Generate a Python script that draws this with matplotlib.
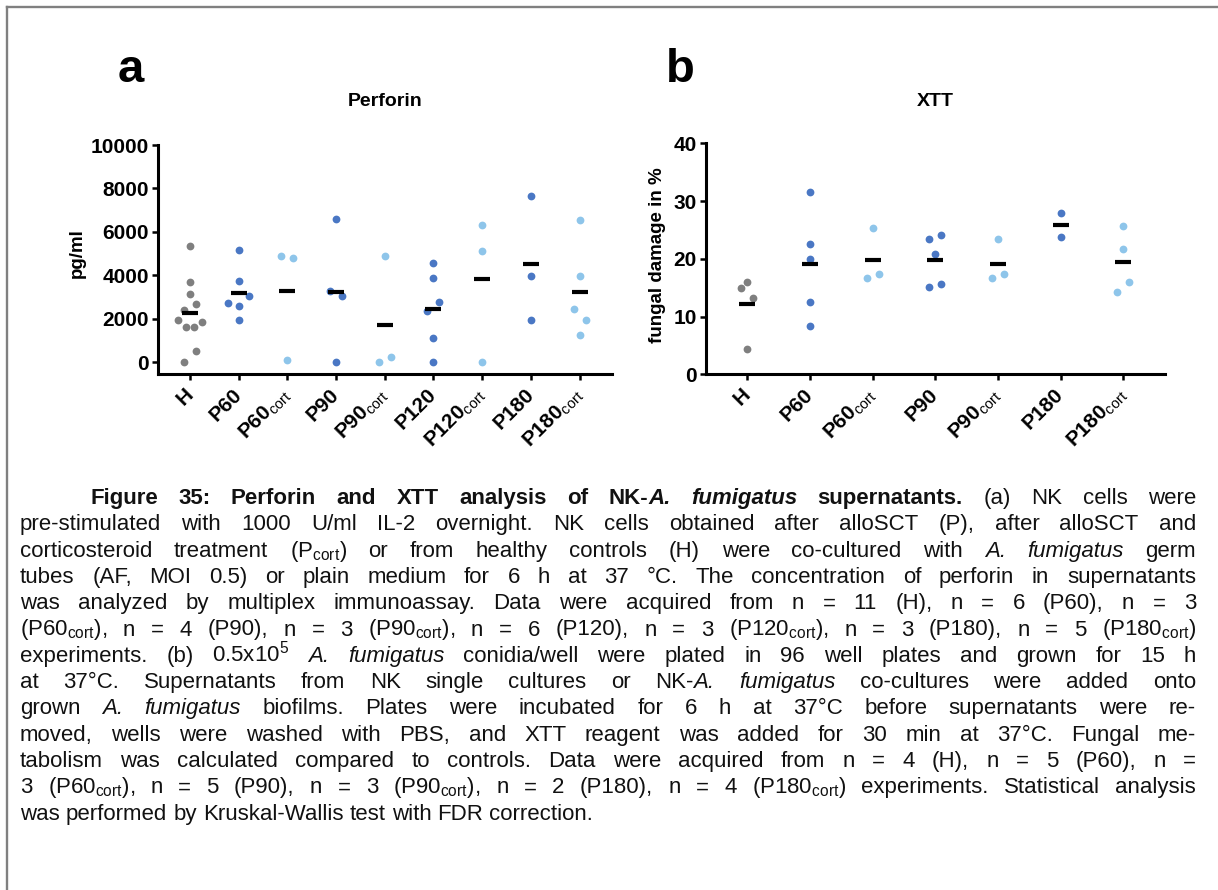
import re
import numpy as np
import matplotlib
matplotlib.use("Agg")
import matplotlib.pyplot as plt
from matplotlib.lines import Line2D

plt.rcParams.update({
    "font.family": "Liberation Sans",
    "mathtext.fontset": "custom",
    "mathtext.rm": "Liberation Sans",
    "mathtext.bf": "Liberation Sans:bold",
    "mathtext.it": "Liberation Sans:italic",
})

W, H, DPI = 1218, 890, 100

# ---------------- data ----------------
perforin_groups = ["H", "P60", "P60cort", "P90", "P90cort",
                   "P120", "P120cort", "P180", "P180cort"]
perf_H = [5350, 3710, 3140, 2390, 2680, 1640, 1610, 1960, 1870, 0, 520]
perf_P60 = [5150, 3740, 2590, 2710, 3050, 1960]
perf_P60cort = [4880, 4800, 110]
perf_P90 = [6610, 3280, 3070, 0]
perf_P90cort = [4880, 0, 250]
perf_P120 = [4570, 3900, 2350, 2780, 1140, 0]
perf_P120cort = [6330, 5120, 0]
perf_P180 = [7650, 3960, 1960]
perf_P180cort = [6560, 3970, 2450, 1930, 1260]
perforin_values = [perf_H, perf_P60, perf_P60cort, perf_P90, perf_P90cort,
                   perf_P120, perf_P120cort, perf_P180, perf_P180cort]
perforin_ticks = [0, 2000, 4000, 6000, 8000, 10000]

xtt_groups = ["H", "P60", "P60cort", "P90", "P90cort", "P180", "P180cort"]
xtt_H = [15.9, 15.0, 13.2, 4.4]
xtt_P60 = [31.6, 22.6, 20.0, 12.6, 8.3]
xtt_P60cort = [25.4, 16.6, 17.4]
xtt_P90 = [23.4, 24.2, 20.8, 15.2, 15.7]
xtt_P90cort = [23.5, 16.7, 17.3]
xtt_P180 = [28.0, 23.8]
xtt_P180cort = [25.7, 21.7, 14.3, 16.0]
xtt_values = [xtt_H, xtt_P60, xtt_P60cort, xtt_P90, xtt_P90cort,
              xtt_P180, xtt_P180cort]
xtt_ticks = [0, 10, 20, 30, 40]

COL_H = "#7f7f7f"
COL_P = "#4a77c4"
COL_CORT = "#8ec5ea"


def group_color(name):
    if name == "H":
        return COL_H
    return COL_CORT if name.endswith("cort") else COL_P


def tick_label(name):
    if name.endswith("cort"):
        return r"$\mathbf{%s}_{\mathrm{cort}}$" % name[:-4]
    return name


def spread_offsets(values, px_per_unit, px_per_cat, thresh=12.0):
    """Horizontal offsets (in category units) for points that sit close in y."""
    vals = np.asarray(values, float)
    order = np.argsort(vals, kind="stable")
    groups = []
    for idx in order:
        if groups and (vals[idx] - vals[groups[-1][0]]) * px_per_unit < thresh:
            groups[-1].append(idx)
        else:
            groups.append([idx])
    offs = np.zeros(len(vals))
    for g in groups:
        n = len(g)
        if n == 1:
            continue
        step = min(12.0, 32.0 / n)
        if n % 2:
            slots = [0.0] + [s * k for k in range(1, n // 2 + 1) for s in (-1, 1)]
        else:
            slots = [s * (k - 0.5) for k in range(1, n // 2 + 1) for s in (-1, 1)]
        for idx, sl in zip(sorted(g), slots):
            offs[idx] = sl * step / px_per_cat
    return offs


fig = plt.figure(figsize=(W / DPI, H / DPI), dpi=DPI)


def px_axes(left, top, right, bottom):
    return fig.add_axes([left / W, 1 - bottom / H, (right - left) / W, (bottom - top) / H])


def dot_panel(ax, groups, values, ticks, ymin, ylabel, label_xy):
    n = len(groups)
    ax.set_xlim(-0.66, n - 1 + 0.66)
    ax.set_ylim(ymin, ticks[-1])
    p0 = ax.transData.transform([(0, 0), (1, 1)])
    px_cat = p0[1, 0] - p0[0, 0]
    px_unit = p0[1, 1] - p0[0, 1]
    for i, (name, vals) in enumerate(zip(groups, values)):
        offs = spread_offsets(vals, px_unit, px_cat)
        ax.plot(i + offs, vals, "o", ms=5.6, color=group_color(name),
                mec="none", clip_on=False, zorder=3)
        ax.plot([i], [np.mean(vals)], marker="_", ms=12, mew=3.0,
                color="black", clip_on=False, zorder=4)
    for s in ("top", "right"):
        ax.spines[s].set_visible(False)
    for s in ("left", "bottom"):
        ax.spines[s].set_linewidth(2.2)
        ax.spines[s].set_capstyle("projecting")
    ax.set_yticks(ticks)
    ax.set_yticklabels([str(t) for t in ticks], fontweight="bold", fontsize=15)
    ax.set_xticks(range(n))
    ax.set_xticklabels([tick_label(g) for g in groups], rotation=45, ha="right",
                       va="center", rotation_mode="anchor",
                       fontweight="bold", fontsize=15)
    ax.tick_params(axis="both", width=1.8, length=4.5, pad=2)
    ax.tick_params(axis="x", pad=8)
    ax.set_ylabel(ylabel, fontweight="bold", fontsize=13.5, va="center")
    ax.yaxis.set_label_coords(*label_xy)
    ax.patch.set_visible(False)


ax_a = px_axes(157.7, 145.0, 611.7, 374.3)
dot_panel(ax_a, perforin_groups, perforin_values, perforin_ticks, -552,
          "pg/ml", (-0.178, 0.527))
ax_b = px_axes(706.0, 143.3, 1164.6, 374.3)
dot_panel(ax_b, xtt_groups, xtt_values, xtt_ticks, 0,
          "fungal damage in %", (-0.105, 0.516))


def ftext(x, y, s, **kw):
    return fig.text(x / W, 1 - y / H, s, **kw)


ftext(131, 82, "a", fontsize=34, fontweight="bold", ha="center", va="baseline")
ftext(680, 82, "b", fontsize=34, fontweight="bold", ha="center", va="baseline")
ftext(385, 102, "Perforin", fontsize=14, fontweight="bold", ha="center", va="center")
ftext(935, 102, "XTT", fontsize=14, fontweight="bold", ha="center", va="center")

# outer frame (top and left rules)
fig.add_artist(Line2D([7.3 / W, 1.0], [1 - 6.7 / H] * 2, transform=fig.transFigure,
                      color="#808080", lw=1.7))
fig.add_artist(Line2D([7.3 / W] * 2, [0.0, 1 - 6.7 / H], transform=fig.transFigure,
                      color="#808080", lw=1.7))

# ---------------- caption (justified) ----------------
C = r"$_{\mathrm{cort}}$"
caption_lines = [
    "<b>Figure 35: Perforin and XTT analysis of NK-</b><bi>A. fumigatus</bi><b> supernatants.</b> (a) NK cells were",
    "pre-stimulated with 1000 U/ml IL-2 overnight. NK cells obtained after alloSCT (P), after alloSCT and",
    "corticosteroid treatment (P" + C + ") or from healthy controls (H) were co-cultured with <i>A. fumigatus</i> germ",
    "tubes (AF, MOI 0.5) or plain medium for 6 h at 37 °C. The concentration of perforin in supernatants",
    "was analyzed by multiplex immunoassay. Data were acquired from n = 11 (H), n = 6 (P60), n = 3",
    "(P60" + C + "), n = 4 (P90), n = 3 (P90" + C + "), n = 6 (P120), n = 3 (P120" + C + "), n = 3 (P180), n = 5 (P180" + C + ")",
    "experiments. (b) 0.5x10$^{5}$ <i>A. fumigatus</i> conidia/well were plated in 96 well plates and grown for 15 h",
    "at 37°C. Supernatants from NK single cultures or NK-<i>A. fumigatus</i> co-cultures were added onto",
    "grown <i>A. fumigatus</i> biofilms. Plates were incubated for 6 h at 37°C before supernatants were re-",
    "moved, wells were washed with PBS, and XTT reagent was added for 30 min at 37°C. Fungal me-",
    "tabolism was calculated compared to controls. Data were acquired from n = 4 (H), n = 5 (P60), n =",
    "3 (P60" + C + "), n = 5 (P90), n = 3 (P90" + C + "), n = 2 (P180), n = 4 (P180" + C + ") experiments. Statistical analysis",
    "was performed by Kruskal-Wallis test with FDR correction.",
]
CAP_SIZE = 16.0
CAP_LEFT, CAP_RIGHT, CAP_INDENT = 20.0, 1196.0, 90.0
CAP_TOP, CAP_STEP = 504.0, 26.3
STYLES = {"": ("normal", "normal"), "b": ("bold", "normal"),
          "i": ("normal", "italic"), "bi": ("bold", "italic")}


def parse_line(line):
    segs, pos = [], 0
    for m in re.finditer(r"<(b|i|bi)>(.*?)</\1>", line):
        if m.start() > pos:
            segs.append((line[pos:m.start()], ""))
        segs.append((m.group(2), m.group(1)))
        pos = m.end()
    if pos < len(line):
        segs.append((line[pos:], ""))
    words = [[]]
    for text, st in segs:
        for k, part in enumerate(text.split(" ")):
            if k > 0:
                words.append([])
            if part:
                words[-1].append((part, st))
    return [w for w in words if w]


renderer = fig.canvas.get_renderer()


def make_text(s, st):
    weight, style = STYLES[st]
    return fig.text(0, 0, s, fontsize=CAP_SIZE, fontweight=weight, fontstyle=style,
                    color="#111111", va="baseline", ha="left", transform=None)


probe_a = make_text("aa", "")
probe_b = make_text("a a", "")
space_w = (probe_b.get_window_extent(renderer).width
           - probe_a.get_window_extent(renderer).width)
probe_a.remove()
probe_b.remove()

for li, line in enumerate(caption_lines):
    words = parse_line(line)
    built = []
    for w in words:
        arts = [make_text(s, st) for s, st in w]
        widths = [a.get_window_extent(renderer).width for a in arts]
        built.append((arts, widths))
    x0 = CAP_INDENT if li == 0 else CAP_LEFT
    total = sum(sum(ws) for _, ws in built)
    last = li == len(caption_lines) - 1
    gap = space_w if last else (CAP_RIGHT - x0 - total) / (len(built) - 1)
    y = H - (CAP_TOP + CAP_STEP * li)
    x = x0
    for arts, widths in built:
        for a, wd in zip(arts, widths):
            a.set_position((x, y))
            x += wd
        x += gap

fig.savefig("out.png", dpi=DPI)
